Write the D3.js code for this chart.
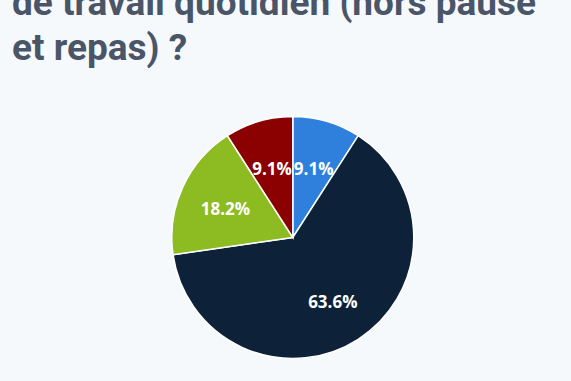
<!DOCTYPE html>
<html>
<head>
<meta charset="utf-8">
<script src="https://cdn.jsdelivr.net/npm/d3@7"></script>
<style>
  html, body { margin: 0; padding: 0; background: #f6f9fc; }
  svg { display: block; }
</style>
</head>
<body>
<svg id="chart" width="571" height="381"></svg>
<script>
const titleLines = ["de travail quotidien (hors pause", "et repas) ?"];
const categories = ["Réponse 1", "Réponse 2", "Réponse 3", "Réponse 4"];
const values = [1, 7, 2, 1];
const colors = ["#2f80dd", "#0d2239", "#8cbb22", "#8b0000"];

const svg = d3.select("#chart");
const W = 571, H = 381;
svg.append("rect").attr("width", W).attr("height", H).attr("fill", "#f6f9fc");

svg.append("g").selectAll("text").data(titleLines).join("text")
  .attr("x", 12)
  .attr("y", (d, i) => 15 + i * 45)
  .attr("font-family", "Roboto, sans-serif")
  .attr("font-weight", 700)
  .attr("font-size", 37)
  .attr("fill", "#4a5568")
  .text(d => d);

const cx = 292.8, cy = 237.5, R = 121;
const total = d3.sum(values);
const data = categories.map((c, i) => ({ c, v: values[i], color: colors[i] }));
const pie = d3.pie().value(d => d.v).sort(null);
const arc = d3.arc().innerRadius(0).outerRadius(R);
const labelArc = d3.arc().innerRadius(74).outerRadius(74);
const fmt = d => (d / total * 100).toFixed(1) + "%";

const g = svg.append("g").attr("transform", `translate(${cx},${cy})`);
const arcs = pie(data);
g.selectAll("path").data(arcs).join("path")
  .attr("d", arc)
  .attr("fill", d => d.data.color)
  .attr("stroke", "#ffffff")
  .attr("stroke-width", 1.5);

g.selectAll("text").data(arcs).join("text")
  .attr("transform", d => {
    const [x, y] = labelArc.centroid(d);
    return `translate(${x},${y + 2})`;
  })
  .attr("text-anchor", "middle")
  .attr("dominant-baseline", "central")
  .attr("font-family", "'Open Sans', sans-serif")
  .attr("font-weight", 700)
  .attr("font-size", 17)
  .attr("fill", "#ffffff")
  .text(d => fmt(d.data.v));
</script>
</body>
</html>
